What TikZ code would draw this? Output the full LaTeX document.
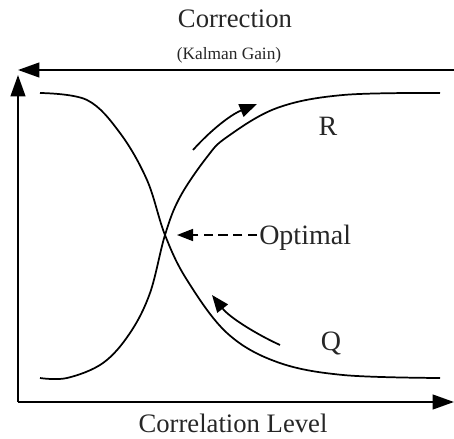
\documentclass[tikz,border=0pt]{standalone}
\usepackage{fontspec}
\setmainfont{Liberation Serif}
\usetikzlibrary{arrows.meta}
\begin{document}
\begin{tikzpicture}[x=0.75pt,y=-0.75pt,
  axis/.style={line width=1.6pt,black},
  curve/.style={line width=1.3pt,black},
  bigtip/.style={-{Triangle[length=16pt,width=11pt]}},
  smalltip/.style={-{Triangle[length=13pt,width=10pt]}},
  opttip/.style={-{Triangle[length=12pt,width=9pt]}},
  lbl/.style={inner sep=0pt,anchor=base,text=black!85}]
\useasboundingbox (0,0) rectangle (454,439);
% labels
\node[lbl,font=\fontsize{20}{24}\selectfont] (title) at (235,27) {Correction};
\node[lbl,font=\fontsize{13}{16}\selectfont] (sub) at (229,59) {(Kalman Gain)};
\node[lbl,font=\fontsize{20}{24}\selectfont] (xlab) at (233,432) {Correlation Level};
\node[lbl,font=\fontsize{21}{25}\selectfont,anchor=base west] (opt) at (259,244) {Optimal};
\node[lbl,font=\fontsize{21}{25}\selectfont] (R) at (328,135) {R};
\node[lbl,font=\fontsize{21}{25}\selectfont] (Q) at (331,350) {Q};
% axes
\coordinate (origin) at (18,402);
\coordinate (ytop) at (18,75);
\coordinate (xend) at (454,402);
\coordinate (topright) at (454,70);
\coordinate (topleft) at (18,70);
\draw[axis,bigtip] (origin) -- (ytop);
\draw[axis,bigtip] (origin) -- (xend);
\draw[axis,bigtip] (topright) -- (topleft);
% curves
\draw[curve] plot[smooth,tension=0.6] coordinates {(40,93) (87,100) (120,133) (147,180) (165,235) (187,280) (227,333) (277,362) (343,375) (440,378)};
\draw[curve] plot[smooth,tension=0.6] coordinates {(40,378) (67,378) (103,363) (130,333) (150,293) (165,235) (180,197) (207,157) (227,137) (277,108) (343,95) (440,93)};
% direction arrows
\coordinate (ra) at (193,150);
\coordinate (rb) at (257,104);
\draw[curve,smalltip] (ra) .. controls (210,131) and (230,115) .. (rb);
\coordinate (qa) at (280,345);
\coordinate (qb) at (212,295);
\draw[curve,smalltip] (qa) .. controls (258,335) and (230,318) .. (qb);
% optimal pointer
\coordinate (cross) at (177,235);
\coordinate (optend) at (257,235);
\draw[line width=1.2pt,dash pattern=on 7pt off 4pt,opttip] (optend) -- (cross);
\end{tikzpicture}
\end{document}
